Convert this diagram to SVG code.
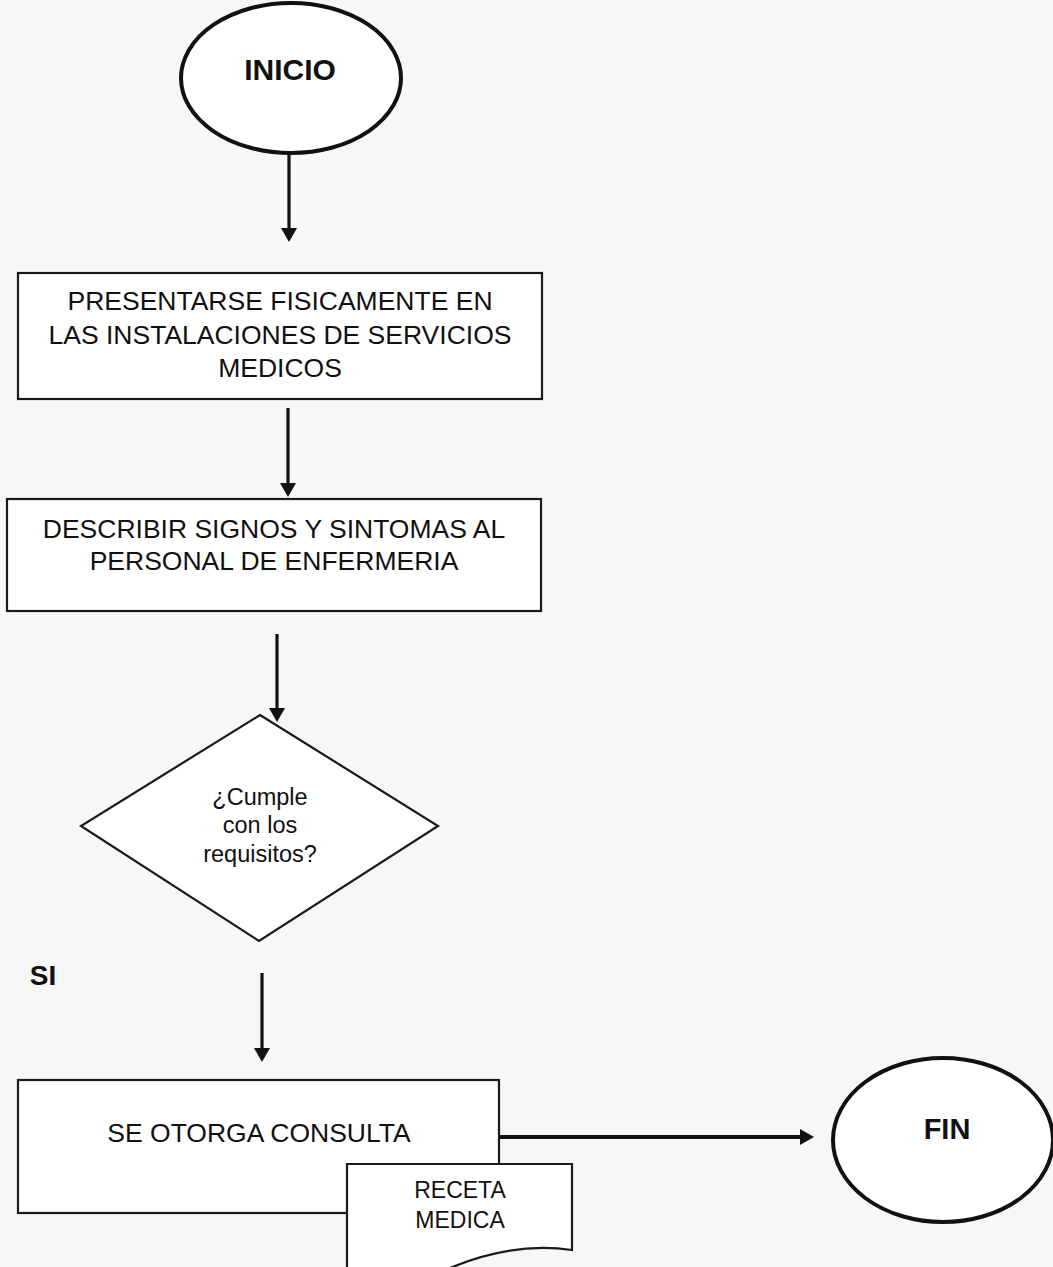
<svg xmlns="http://www.w3.org/2000/svg" width="1053" height="1267" viewBox="0 0 1053 1267">
<defs>
<style>
.bg{fill:#f7f7f6}
.term{fill:#ffffff;stroke:#111;stroke-width:4}
.box{fill:#ffffff;stroke:#1a1a1a;stroke-width:2.2}
.conn{stroke:#111;stroke-width:3.2;fill:none}
.t{font-family:"Liberation Sans",Arial,sans-serif;fill:#111;text-anchor:middle}
.big{font-size:26.5px}
.bold{font-weight:bold}
</style>
<marker id="ah" markerUnits="userSpaceOnUse" markerWidth="16" markerHeight="16" refX="2" refY="8" orient="auto">
<path d="M0,0 L14,8 L0,16 Z" fill="#111"/>
</marker>
</defs>
<rect class="bg" x="0" y="0" width="1053" height="1267"/>

<g id="inicio">
<ellipse class="term" cx="291" cy="78" rx="110" ry="75"/>
<text class="t bold" x="290" y="80" font-size="30">INICIO</text>
</g>

<g id="presentarse">
<rect class="box" x="18" y="273" width="524" height="126"/>
<text class="t big" x="280" y="310">PRESENTARSE FISICAMENTE EN</text>
<text class="t big" x="280" y="344">LAS INSTALACIONES DE SERVICIOS</text>
<text class="t big" x="280" y="377">MEDICOS</text>
</g>

<g id="describir">
<rect class="box" x="7" y="499" width="534" height="112"/>
<text class="t big" x="274" y="538">DESCRIBIR SIGNOS Y SINTOMAS AL</text>
<text class="t big" x="274" y="570">PERSONAL DE ENFERMERIA</text>
</g>

<g id="decision">
<polygon class="box" points="260,715 438,826 259,941 81,826"/>
<text class="t" x="260" y="805" font-size="23.5">¿Cumple</text>
<text class="t" x="260" y="833" font-size="23.5">con los</text>
<text class="t" x="260" y="862" font-size="23.5">requisitos?</text>
</g>

<g id="si-label">
<text class="t bold" x="43" y="985" font-size="28">SI</text>
</g>

<g id="consulta">
<rect class="box" x="18" y="1080" width="481" height="133"/>
<text class="t big" x="259" y="1142">SE OTORGA CONSULTA</text>
</g>

<g id="receta">
<path class="box" d="M347,1164 H572 V1250 C530,1244 490,1252 455,1266 C420,1280 385,1286 347,1282 Z"/>
<text class="t" x="460" y="1198" font-size="23">RECETA</text>
<text class="t" x="460" y="1228" font-size="23">MEDICA</text>
</g>

<g id="fin">
<ellipse class="term" cx="943" cy="1140" rx="110" ry="82"/>
<text class="t bold" x="947" y="1139" font-size="29">FIN</text>
</g>

<g id="connectors">
<line class="conn" x1="289" y1="153" x2="289" y2="230" marker-end="url(#ah)"/>
<line class="conn" x1="288" y1="408" x2="288" y2="485" marker-end="url(#ah)"/>
<line class="conn" x1="277" y1="634" x2="277" y2="710" marker-end="url(#ah)"/>
<line class="conn" x1="262" y1="973" x2="262" y2="1050" marker-end="url(#ah)"/>
<line class="conn" x1="499" y1="1137" x2="802" y2="1137" marker-end="url(#ah)" style="stroke-width:4"/>
</g>
</svg>
